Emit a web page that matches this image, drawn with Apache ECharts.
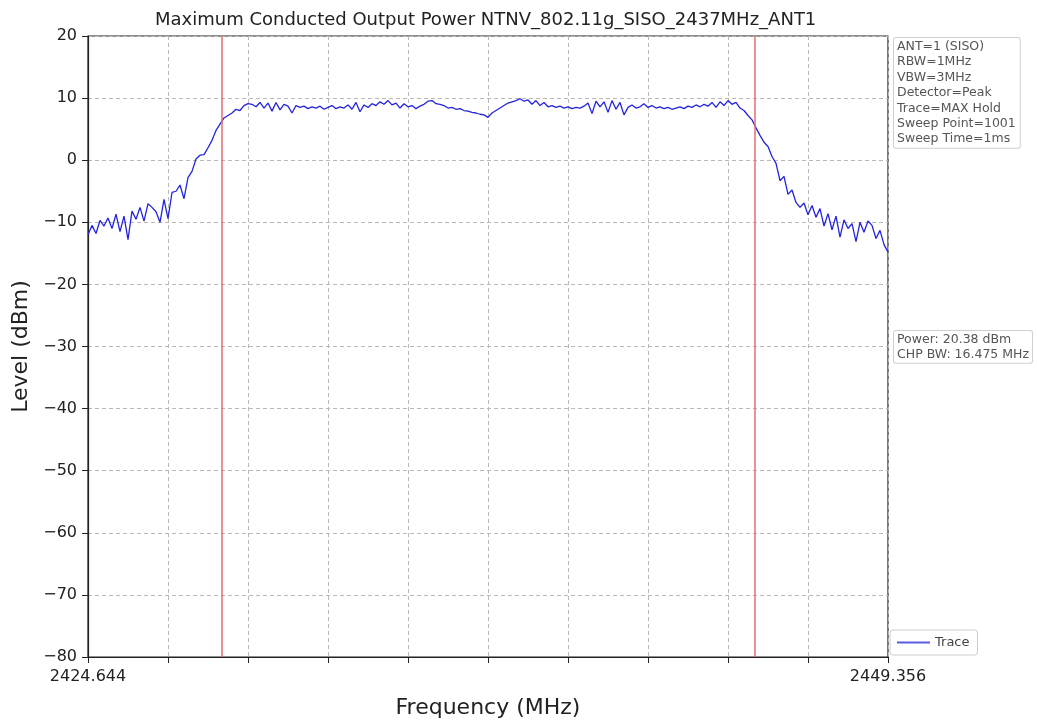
<!DOCTYPE html>
<html>
<head>
<meta charset="utf-8">
<title>Maximum Conducted Output Power</title>
<script src="https://cdn.jsdelivr.net/npm/echarts@6/dist/echarts.min.js"></script>
<style>
  html, body { margin: 0; padding: 0; background: #fff; }
  #chart { width: 1037px; height: 724px; }
</style>
</head>
<body>
<div id="chart"></div>
<script>
// sweep settings
const startFreq = 2424.644
const stopFreq = 2449.356
const sweepPoints = 1001
const pointStep = 5

// channel power edges (MHz)
const chpEdges = [2428.7625, 2445.2375]

// trace level (dBm), one value every 5 sweep points
const traceLevels = [
  -12.0, -10.5, -11.8, -9.7, -10.6, -9.3, -11.0, -8.7, -11.5, -9.0,
  -12.8, -8.2, -9.5, -7.6, -9.8, -7.0, -7.6, -8.3, -10.0, -6.3,
  -9.4, -5.2, -5.0, -4.0, -6.2, -2.8, -1.8, 0.2, 0.8, 0.9,
  2.0, 3.2, 4.8, 5.8, 6.8, 7.2, 7.6, 8.2, 8.0, 8.8,
  9.1, 9.0, 8.6, 9.3, 8.4, 9.2, 7.9, 9.3, 8.1, 9.0,
  8.7, 7.6, 8.8, 8.5, 8.7, 8.3, 8.6, 8.4, 8.7, 8.2,
  8.5, 8.8, 8.3, 8.6, 8.4, 8.9, 8.2, 9.3, 7.8, 8.9,
  8.5, 9.1, 8.8, 9.4, 9.0, 9.6, 8.9, 9.2, 8.4, 9.1,
  8.6, 8.8, 8.3, 8.7, 9.0, 9.5, 9.6, 9.1, 9.0, 8.8,
  8.4, 8.5, 8.2, 8.3, 8.0, 7.9, 7.7, 7.6, 7.4, 7.3,
  6.9, 7.6, 8.0, 8.4, 8.8, 9.2, 9.4, 9.6, 9.9, 9.5,
  9.7, 9.0, 9.6, 8.8, 9.3, 8.6, 8.8, 8.5, 8.7, 8.4,
  8.6, 8.3, 8.5, 8.4, 8.7, 9.2, 7.5, 9.5, 8.6, 9.4,
  7.7, 9.6, 8.2, 9.3, 7.3, 8.5, 8.9, 8.4, 8.6, 9.1,
  8.5, 8.8, 8.4, 8.6, 8.3, 8.5, 8.2, 8.4, 8.6, 8.3,
  8.7, 8.5, 8.9, 8.6, 9.0, 8.7, 9.3, 8.5, 9.4, 8.8,
  9.6, 9.0, 9.3, 8.4, 8.0, 7.2, 6.5, 5.2, 4.0, 2.9,
  2.2, 0.6, -0.5, -3.3, -2.6, -5.5, -4.8, -6.8, -7.6, -6.9,
  -8.8, -7.3, -9.2, -7.8, -10.6, -8.6, -11.2, -9.0, -12.4, -9.6,
  -11.0, -10.2, -13.1, -10.0, -11.6, -9.8, -10.5, -12.6, -11.3, -13.6,
  -14.8
]

const yTicks = [-80, -70, -60, -50, -40, -30, -20, -10, 0, 10, 20]

const settingsLines = [
  'ANT=1 (SISO)',
  'RBW=1MHz',
  'VBW=3MHz',
  'Detector=Peak',
  'Trace=MAX Hold',
  'Sweep Point=1001',
  'Sweep Time=1ms'
]
const resultLines = ['Power: 20.38 dBm', 'CHP BW: 16.475 MHz']

const lastIndex = sweepPoints - 1
const freqToIndex = f => (f - startFreq) / (stopFreq - startFreq) * lastIndex
const seriesData = traceLevels.map((v, i) => [i * pointStep, v])

const font = 'DejaVu Sans'
const chart = echarts.init(document.getElementById('chart'), null, { renderer: 'canvas' })

const option = {
  backgroundColor: '#fff',
  animation: false,
  textStyle: { fontFamily: font },
  title: {
    text: 'Maximum Conducted Output Power NTNV_802.11g_SISO_2437MHz_ANT1',
    left: 150,
    top: 6,
    textStyle: { fontFamily: font, fontSize: 18, fontWeight: 'normal', color: '#222' }
  },
  grid: {
    left: 88,
    right: 149,
    top: 36,
    bottom: 67,
    show: true,
    borderColor: '#222',
    borderWidth: 1.2,
    backgroundColor: 'transparent'
  },
  legend: {
    left: 890,
    top: 630,
    orient: 'vertical',
    padding: [6, 8, 6, 7],
    borderColor: '#ccc',
    borderWidth: 1,
    borderRadius: 3,
    itemWidth: 33,
    itemHeight: 2,
    icon: 'rect',
    textStyle: { fontFamily: font, fontSize: 13, color: '#444' },
    data: ['Trace']
  },
  xAxis: {
    type: 'value',
    min: 0,
    max: lastIndex,
    interval: 100,
    axisLine: { show: true, onZero: false, lineStyle: { color: '#222', width: 1.2 } },
    axisTick: { show: true, inside: false, length: 6, lineStyle: { color: '#222' } },
    axisLabel: {
      fontFamily: font,
      fontSize: 16,
      color: '#222',
      margin: 12,
      showMinLabel: true,
      showMaxLabel: true,
      formatter: v => (v === 0 ? startFreq.toFixed(3) : v === lastIndex ? stopFreq.toFixed(3) : '')
    },
    splitLine: { show: true, lineStyle: { color: '#b8b8b8', type: [4, 3], width: 1 } },
    name: 'Frequency (MHz)',
    nameLocation: 'middle',
    nameGap: 40,
    nameTextStyle: { fontFamily: font, fontSize: 22, color: '#222' }
  },
  yAxis: {
    type: 'value',
    min: yTicks[0],
    max: yTicks[yTicks.length - 1],
    interval: 10,
    axisLine: { show: true, onZero: false, lineStyle: { color: '#222', width: 1.2 } },
    axisTick: { show: true, inside: false, length: 6, lineStyle: { color: '#222' } },
    axisLabel: {
      fontFamily: font,
      fontSize: 16,
      color: '#222',
      margin: 11,
      formatter: v => String(v).replace('-', '\u2212')
    },
    splitLine: { show: true, lineStyle: { color: '#b8b8b8', type: [4, 3], width: 1 } },
    name: 'Level (dBm)',
    nameLocation: 'middle',
    nameGap: 54,
    nameTextStyle: { fontFamily: font, fontSize: 22, color: '#222' }
  },
  series: [
    {
      name: 'Trace',
      type: 'line',
      data: seriesData,
      showSymbol: false,
      symbol: 'none',
      lineStyle: { color: '#2424dc', width: 1.3 },
      itemStyle: { color: '#5a5ae0' },
      markLine: {
        silent: true,
        symbol: 'none',
        label: { show: false },
        lineStyle: { color: '#e07070', type: 'solid', width: 1.5 },
        data: chpEdges.map(f => ({ xAxis: freqToIndex(f) }))
      },
      z: 3
    }
  ],
  graphic: [
    {
      type: 'text',
      left: 893,
      top: 37,
      style: {
        text: settingsLines.join('\n'),
        font: '12.5px "DejaVu Sans"',
        fill: '#555',
        lineHeight: 15.4,
        backgroundColor: '#fff',
        borderColor: '#cfcfcf',
        borderWidth: 1,
        borderRadius: 2,
        padding: [1, 4, 1, 3]
      }
    },
    {
      type: 'text',
      left: 893,
      top: 330,
      style: {
        text: resultLines.join('\n'),
        font: '12.5px "DejaVu Sans"',
        fill: '#555',
        lineHeight: 15.4,
        backgroundColor: '#fff',
        borderColor: '#cfcfcf',
        borderWidth: 1,
        borderRadius: 2,
        padding: [1, 3, 0, 3]
      }
    }
  ]
}

chart.setOption(option)
window.addEventListener('resize', () => chart.resize())
</script>
</body>
</html>
